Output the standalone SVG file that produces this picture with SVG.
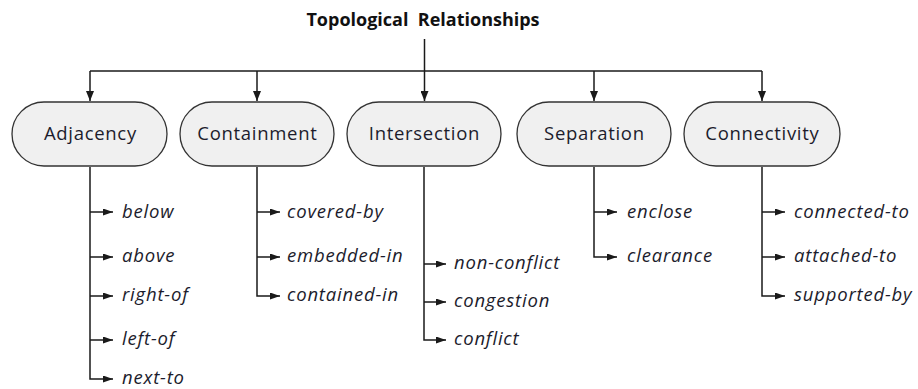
<svg xmlns="http://www.w3.org/2000/svg" width="918" height="389" viewBox="0 0 918 389">
  <defs>
    <marker id="head" viewBox="0 0 10 8" refX="10" refY="4" markerWidth="10" markerHeight="8" markerUnits="userSpaceOnUse" orient="auto">
      <path d="M0,0 L10,4 L0,8 Z" fill="#1a1a1a"/>
    </marker>
    <marker id="tip" viewBox="0 0 10 7" refX="10" refY="3.5" markerWidth="10" markerHeight="7" markerUnits="userSpaceOnUse" orient="auto">
      <path d="M0,0 L10,3.5 L0,7 Z" fill="#1a1a1a"/>
    </marker>
  </defs>
  <style>
    .title { font-family: "Open Sans", "Liberation Sans", sans-serif; font-weight: bold; font-size: 18px; fill: #111; text-anchor: middle; }
    .pill { fill: #f0f0f0; stroke: #333; stroke-width: 1.3; }
    .plabel { font-family: "Open Sans", "Liberation Sans", sans-serif; font-size: 18.5px; letter-spacing: 0.7px; fill: #1c1c2c; text-anchor: middle; }
    .item { font-family: "Open Sans", "Liberation Sans", sans-serif; font-style: italic; font-size: 18.5px; letter-spacing: 0.8px; fill: #1c1c2c; }
    .wire { fill: none; stroke: #1a1a1a; stroke-width: 1.5; }
    .down { marker-end: url(#head); }
    .branch { marker-end: url(#tip); }
  </style>
  <rect width="918" height="389" fill="#ffffff"/>

  <text id="title" class="title" x="423" y="26" xml:space="preserve">Topological  Relationships</text>

  <!-- tree connectors -->
  <g id="connectors">
    <path class="wire" d="M424.5,39 V101" marker-end="url(#head)"/>
    <path class="wire" d="M90,71 H762"/>
    <path class="wire down" d="M90,71 V101"/>
    <path class="wire down" d="M257,71 V101"/>
    <path class="wire down" d="M594,71 V101"/>
    <path class="wire down" d="M762,71 V101"/>

    <!-- Adjacency children -->
    <path class="wire" d="M90,167 V379 H113" marker-end="url(#tip)"/>
    <path class="wire branch" d="M90,212 H113"/>
    <path class="wire branch" d="M90,257 H113"/>
    <path class="wire branch" d="M90,296 H113"/>
    <path class="wire branch" d="M90,340 H113"/>

    <!-- Containment children -->
    <path class="wire" d="M257,167 V296 H280" marker-end="url(#tip)"/>
    <path class="wire branch" d="M257,212 H280"/>
    <path class="wire branch" d="M257,257 H280"/>

    <!-- Intersection children -->
    <path class="wire" d="M424,167 V340 H446" marker-end="url(#tip)"/>
    <path class="wire branch" d="M424,264 H446"/>
    <path class="wire branch" d="M424,302 H446"/>

    <!-- Separation children -->
    <path class="wire" d="M594,167 V257 H617" marker-end="url(#tip)"/>
    <path class="wire branch" d="M594,212 H617"/>

    <!-- Connectivity children -->
    <path class="wire" d="M762,167 V296 H785" marker-end="url(#tip)"/>
    <path class="wire branch" d="M762,212 H785"/>
    <path class="wire branch" d="M762,257 H785"/>
  </g>

  <g id="adjacency">
    <rect class="pill" x="12" y="102" width="155" height="64" rx="32" ry="32"/>
    <text class="plabel" x="90.4" y="140">Adjacency</text>
  </g>
  <g id="containment">
    <rect class="pill" x="180" y="102" width="154" height="64" rx="32" ry="32"/>
    <text class="plabel" x="257.4" y="140">Containment</text>
  </g>
  <g id="intersection">
    <rect class="pill" x="347" y="102" width="154" height="64" rx="32" ry="32"/>
    <text class="plabel" x="424.4" y="140">Intersection</text>
  </g>
  <g id="separation">
    <rect class="pill" x="517" y="102" width="154" height="64" rx="32" ry="32"/>
    <text class="plabel" x="594.4" y="140">Separation</text>
  </g>
  <g id="connectivity">
    <rect class="pill" x="684" y="102" width="156" height="64" rx="32" ry="32"/>
    <text class="plabel" x="762.4" y="140">Connectivity</text>
  </g>

  <g id="adjacency-items">
    <text class="item" x="122" y="218">below</text>
    <text class="item" x="122" y="262">above</text>
    <text class="item" x="122" y="301">right-of</text>
    <text class="item" x="122" y="345">left-of</text>
    <text class="item" x="122" y="384">next-to</text>
  </g>
  <g id="containment-items">
    <text class="item" x="287" y="218">covered-by</text>
    <text class="item" x="287" y="262">embedded-in</text>
    <text class="item" x="287" y="301">contained-in</text>
  </g>
  <g id="intersection-items">
    <text class="item" x="454" y="269">non-conflict</text>
    <text class="item" x="454" y="307">congestion</text>
    <text class="item" x="454" y="345">conflict</text>
  </g>
  <g id="separation-items">
    <text class="item" x="627" y="218">enclose</text>
    <text class="item" x="627" y="262">clearance</text>
  </g>
  <g id="connectivity-items">
    <text class="item" x="794" y="218">connected-to</text>
    <text class="item" x="794" y="262">attached-to</text>
    <text class="item" x="794" y="301">supported-by</text>
  </g>
</svg>
